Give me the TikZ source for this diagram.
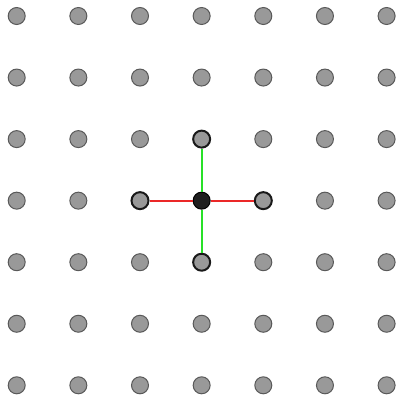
\documentclass[tikz,border=0pt]{standalone}
\begin{document}
\begin{tikzpicture}[x=1pt,y=-1pt,
  dot/.style={circle,minimum size=17pt,inner sep=0pt,fill=gray!80!white,draw=black!65,line width=1pt},
  hdot/.style={dot,draw=black!90,line width=2pt},
  cdot/.style={circle,minimum size=17pt,inner sep=0pt,fill=black!88,draw=black,line width=1pt},
  redge/.style={draw={rgb,255:red,235;green,40;blue,40},line width=2.2pt},
  gedge/.style={draw={rgb,255:red,40;green,225;blue,40},line width=2.2pt}]
\useasboundingbox (0,0) rectangle (402,400);
\foreach \i in {0,...,6}{
  \foreach \j in {0,...,6}{
    \coordinate (p\i\j) at ({16.7+61.65*\i},{16+61.55*\j});
  }
}
\foreach \i in {0,...,6}{
  \foreach \j in {0,...,6}{
    \ifnum\i=3 \ifnum\j=2 \else\ifnum\j=3 \else\ifnum\j=4 \else
      \node[dot] (n\i\j) at (p\i\j) {};
    \fi\fi\fi
    \else
      \ifnum\j=3 \ifnum\i=2 \else\ifnum\i=4 \else
        \node[dot] (n\i\j) at (p\i\j) {};
      \fi\fi
      \else
        \node[dot] (n\i\j) at (p\i\j) {};
      \fi
    \fi
  }
}
\node[cdot] (c) at (p33) {};
\node[hdot] (l) at (p23) {};
\node[hdot] (r) at (p43) {};
\node[hdot] (t) at (p32) {};
\node[hdot] (b) at (p34) {};
\draw[redge] (c) -- (l);
\draw[redge] (c) -- (r);
\draw[gedge] (c) -- (t);
\draw[gedge] (c) -- (b);
\end{tikzpicture}
\end{document}
